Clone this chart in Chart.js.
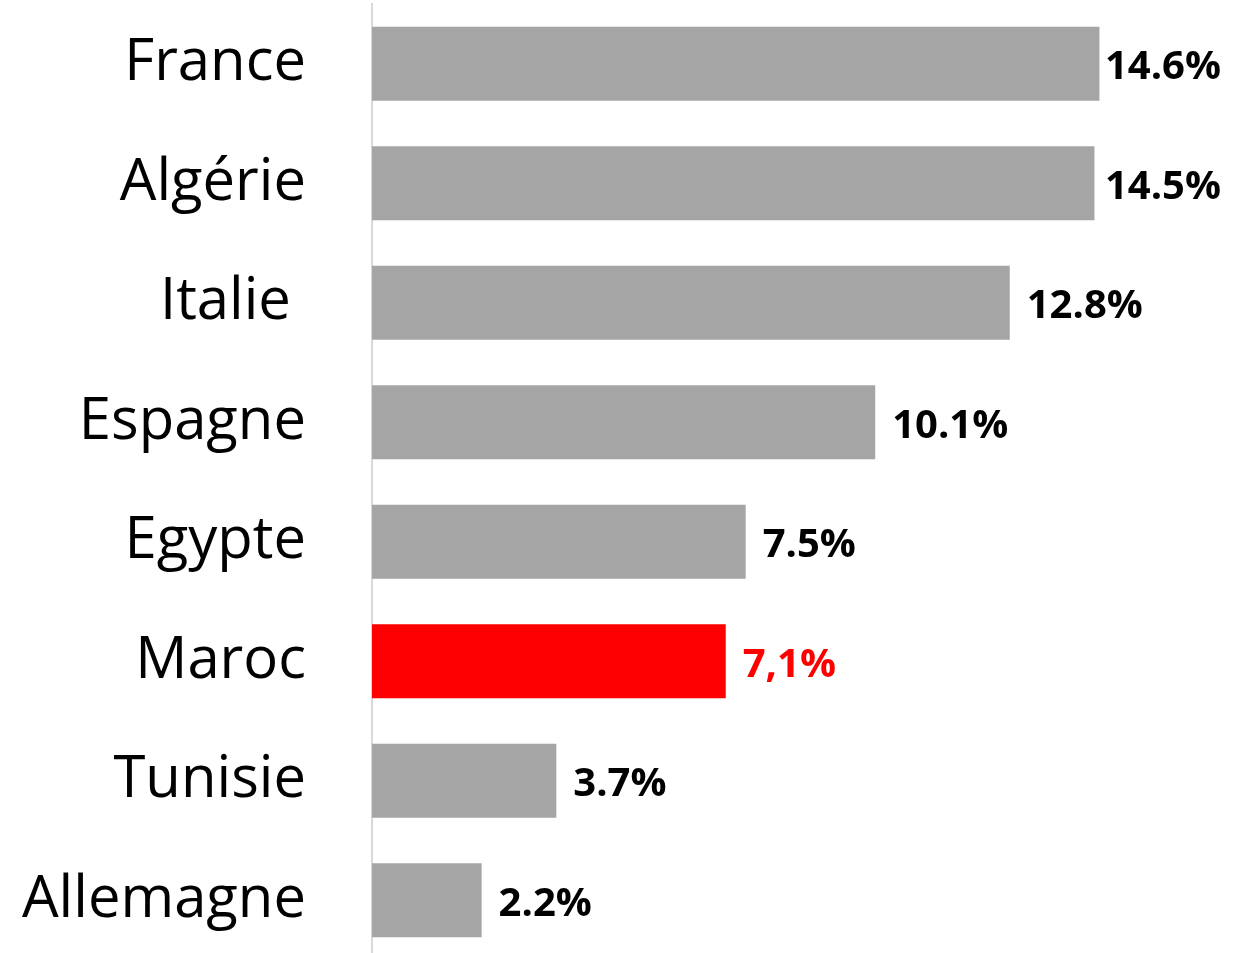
<!DOCTYPE html>
<html>
<head>
<meta charset="utf-8">
<script src="https://cdn.jsdelivr.net/npm/chart.js@4/dist/chart.umd.min.js"></script>
<style>
  html, body { margin: 0; padding: 0; background: #fff; overflow: hidden; }
  #wrap { position: relative; width: 1251px; height: 960px; }
</style>
</head>
<body>
<div id="wrap"><canvas id="chart"></canvas></div>
<script>
// données du graphique
const pays = ['France', 'Algérie', 'Italie ', 'Espagne', 'Egypte', 'Maroc', 'Tunisie', 'Allemagne'];
const parts = [14.6, 14.5, 12.8, 10.1, 7.5, 7.1, 3.7, 2.2];
const etiquettes = ['14.6%', '14.5%', '12.8%', '10.1%', '7.5%', '7,1%', '3.7%', '2.2%'];

const gris = '#A5A5A5';
const rouge = '#FF0000';
const couleurs = pays.map(p => p === 'Maroc' ? rouge : gris);
const couleursTexte = pays.map(p => p === 'Maroc' ? rouge : '#000000');

// Etiquettes de valeur à droite des barres
const valeurLabels = {
    id: 'valeurLabels',
    afterDatasetsDraw(chart) {
        const ctx = chart.ctx;
        const meta = chart.getDatasetMeta(0);
        ctx.save();
        ctx.font = 'bold 40px "Open Sans"';
        ctx.textBaseline = 'middle';
        ctx.textAlign = 'left';
        meta.data.forEach((bar, i) => {
            const txt = etiquettes[i];
            const w = ctx.measureText(txt).width;
            let x = bar.x + 17;
            if (x + w > 1221) x = 1221 - w; // on garde le texte dans le cadre
            ctx.fillStyle = couleursTexte[i];
            ctx.fillText(txt, x, bar.y + 4);
        });
        ctx.restore();
    }
};

new Chart(document.getElementById('chart'), {
    type: 'bar',
    data: {
        labels: pays,
        datasets: [{
            data: parts,
            backgroundColor: couleurs,
            barPercentage: 0.62,
            categoryPercentage: 1
        }]
    },
    options: {
        indexAxis: 'y',
        responsive: true,
        maintainAspectRatio: false,
        animation: false,
        layout: { padding: { top: 4, right: 32, bottom: 0, left: 0 } },
        plugins: {
            legend: { display: false },
            tooltip: { enabled: false }
        },
        scales: {
            x: {
                display: false,
                min: 0,
                max: 17
            },
            y: {
                grid: { display: false, drawTicks: false },
                border: { display: true, color: '#D9D9D9', width: 2 },
                ticks: {
                    color: '#000000',
                    padding: 66,
                    font: { family: '"Open Sans"', size: 58 }
                },
                afterFit(scale) {
                    scale.width = 372;
                    // pas de marge verticale ajoutée par les étiquettes
                    scale.paddingTop = 0;
                    scale.paddingBottom = 0;
                }
            }
        }
    },
    plugins: [valeurLabels]
});
</script>
</body>
</html>
